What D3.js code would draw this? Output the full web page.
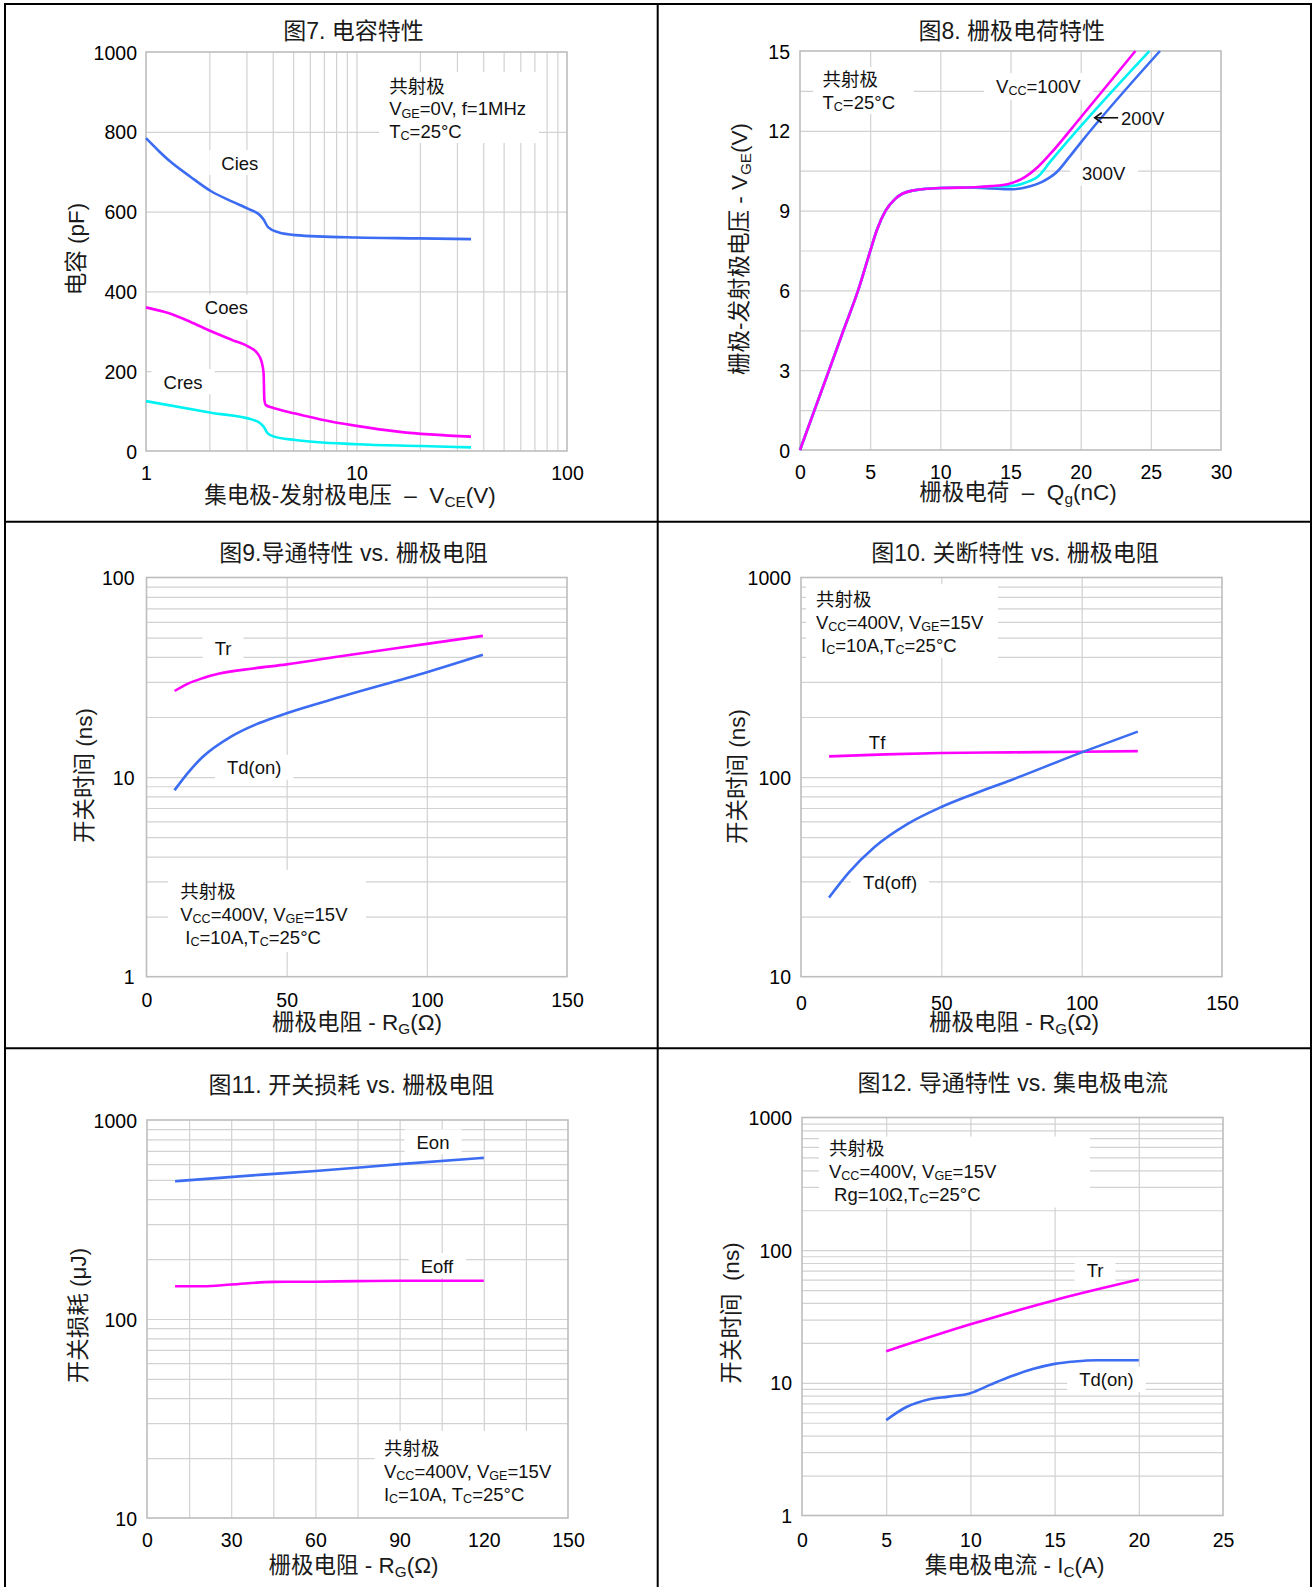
<!DOCTYPE html>
<html><head><meta charset="utf-8">
<script src="https://cdn.jsdelivr.net/npm/d3@7"></script>
<style>body{margin:0;background:#fff} svg{display:block} text{white-space:pre}</style>
</head><body><svg id="c" width="1314" height="1587"></svg>
<script>
// ---------------- DATA ----------------
// Fig 7 capacitance
const fig7XTicks = [1, 10, 100];
const fig7YTicks = [0, 200, 400, 600, 800, 1000];
const fig7XGrid = [2,3,4,5,6,7,8,9,10,20,30,40,50,60,70,80,90];
const fig7YGrid = [200, 400, 600, 800];
const fig7Cies = [[1,784],[1.15,752],[1.3,726],[1.62,688],[2.04,651],[2.57,625],[3.08,606],[3.46,592],[3.62,580],[3.8,561],[4.25,548],[5.11,541],[10,535],[20,533],[35,531]];
const fig7Coes = [[1,360],[1.288,345],[1.62,324],[2.04,300],[2.57,278],[3.08,261],[3.38,245],[3.54,224],[3.62,195],[3.65,128],[3.71,115],[3.97,109],[5.11,94],[6.74,79],[10,63],[16.1,48],[35,36]];
const fig7Cres = [[1,125],[2.04,96],[3.23,78],[3.46,71],[3.62,61],[3.79,44],[4.06,36],[5.11,27.5],[10,17],[20.3,12.5],[35,9]];

// Fig 8 gate charge
const fig8XTicks = [0, 5, 10, 15, 20, 25, 30];
const fig8YTicks = [0, 3, 6, 9, 12, 15];
const fig8XGrid = [5, 10, 15, 20, 25];
const fig8YGrid = [1.5, 3, 4.5, 6, 7.5, 9, 10.5, 12, 13.5];
const fig8Vcc100 = [[0,0],[1,1.45],[2.07,3],[3.1,4.5],[4.14,6],[4.9,7.3],[5.5,8.3],[6.1,9.0],[6.8,9.45],[8,9.75],[10,9.85],[12.5,9.88],[13.65,9.92],[14.85,10.0],[16.05,10.27],[16.95,10.64],[17.85,11.14],[20,12.5],[23.9,15]];
const fig8Vcc200 = [[0,0],[1,1.45],[2.07,3],[3.1,4.5],[4.14,6],[4.9,7.3],[5.5,8.3],[6.1,9.0],[6.8,9.45],[8,9.75],[10,9.85],[12.5,9.88],[13.65,9.9],[15.15,9.93],[16.05,10.05],[17.0,10.3],[17.85,10.85],[24.9,15]];
const fig8Vcc300 = [[0,0],[1,1.45],[2.07,3],[3.1,4.5],[4.14,6],[4.9,7.3],[5.5,8.3],[6.1,9.0],[6.8,9.45],[8,9.75],[10,9.85],[12.5,9.86],[13.65,9.83],[15.0,9.8],[16.05,9.87],[17.25,10.08],[18.3,10.45],[19.2,11.02],[19.95,11.52],[25.65,15]];

// Fig 9 turn-on vs Rg
const fig9XTicks = [0, 50, 100, 150];
const fig9YTicks = [1, 10, 100];
const fig9XGrid = [50, 100];
const fig9YGrid = [2,3,4,5,6,7,8,9,10,20,30,40,50,60,70,80,90];
const fig9Tr = [[10,27],[15,29.5],[20,31.3],[26,33],[38,35],[50,36.7],[68,40.1],[100,46.5],[120,51]];
const fig9Tdon = [[10,8.6],[15,10.6],[20,12.6],[30,15.9],[40,18.6],[50,20.9],[70,25.4],[100,33.5],[120,41]];

// Fig 10 turn-off vs Rg
const fig10XTicks = [0, 50, 100, 150];
const fig10YTicks = [10, 100, 1000];
const fig10XGrid = [50, 100];
const fig10YGrid = [20,30,40,50,60,70,80,90,100,200,300,400,500,600,700,800,900];
const fig10Tf = [[10,127],[30,130],[50,132],[75,133],[100,134],[120,135]];
const fig10Tdoff = [[10,24.9],[17,33.2],[26,44.4],[38,58.3],[50,70.8],[62,82.8],[75,96.8],[100,133],[120,169]];

// Fig 11 switching loss vs Rg
const fig11XTicks = [0, 30, 60, 90, 120, 150];
const fig11YTicks = [10, 100, 1000];
const fig11XGrid = [15,30,45,60,75,90,105,120,135];
const fig11YGrid = [20,30,40,50,60,70,80,90,100,200,300,400,500,600,700,800,900];
const fig11Eon = [[10,492],[40,530],[60,554],[90,600],[120,645]];
const fig11Eoff = [[10,146],[20,146],[30,149],[45,153.6],[60,154],[75,155],[90,155.6],[120,155.6]];

// Fig 12 turn-on vs Ic
const fig12XTicks = [0, 5, 10, 15, 20, 25];
const fig12YTicks = [1, 10, 100, 1000];
const fig12XGrid = [5, 10, 15, 20];
const fig12YGrid = [2,3,4,5,6,7,8,9,10,20,30,40,50,60,70,80,90,100,200,300,400,500,600,700,800,900];
const fig12Tr = [[5,17.3],[10,27.6],[15,42],[20,60]];
const fig12Tdon = [[5,5.24],[6.2,6.57],[7.5,7.5],[8.7,7.87],[10,8.36],[11.2,9.7],[12.5,11.3],[13.7,12.7],[15,13.9],[16.2,14.5],[17.5,14.8],[20,14.8]];

// ---------------- STYLE ----------------
const FONT = '"Liberation Sans", Arial, "Noto Sans CJK SC", sans-serif';
const BLUE = '#3b6cf2', MAG = '#ff00ff', CYAN = '#00f2f2';
const GRID = '#d2d2d2', FRAME = '#bdbdbd';
const TITLE_FS = 23, LABEL_FS = 22.5, TICK_FS = 19.5, NOTE_FS = 18.5;

const svg = d3.select('#c');
svg.append('rect').attr('width', 1314).attr('height', 1587).attr('fill', '#fff');

function rich(t, str, fs) {
  const parts = str.split(/(_\{[^}]*\})/);
  let sub = false;
  parts.forEach(p => {
    if (!p) return;
    if (p.startsWith('_{')) {
      t.append('tspan').attr('font-size', fs * 0.68).attr('dy', fs * 0.28).text(p.slice(2, -1));
      sub = true;
    } else {
      const ts = t.append('tspan').text(p);
      if (sub) { ts.attr('dy', -fs * 0.28); sub = false; }
    }
  });
  return t;
}

const panels = [
  { box:{x0:146,x1:567,y0:52,y1:451}, xLog:true, xDomain:[1,100], yLog:false, yDomain:[0,1000],
    xTicks:fig7XTicks, yTicks:fig7YTicks, xGrid:fig7XGrid, yGrid:fig7YGrid,
    title:'图7. 电容特性', titlePos:[353.5,30.5],
    xLabel:'集电极-发射极电压  –  V_{CE}(V)', xLabelPos:[350,495],
    yLabel:'电容 (pF)', yLabelPos:[76,249], xTickDy:22, yTickPad:9,
    series:[{data:fig7Cies,color:BLUE},{data:fig7Coes,color:MAG},{data:fig7Cres,color:CYAN}],
    labels:[{t:'Cies',at:[2.79,723]},{t:'Coes',at:[2.41,361]},{t:'Cres',at:[1.50,174]}],
    note:{lines:['共射极','V_{GE}=0V, f=1MHz','T_{C}=25°C'], at:[14.3,915], dy:22.5, box:[12.8,73.6,950,772]} },
  { box:{x0:800,x1:1221,y0:51,y1:450}, xLog:false, xDomain:[0,30], yLog:false, yDomain:[0,15],
    xTicks:fig8XTicks, yTicks:fig8YTicks, xGrid:fig8XGrid, yGrid:fig8YGrid,
    title:'图8. 栅极电荷特性', titlePos:[1011.7,30.5],
    xLabel:'栅极电荷  –  Q_{g}(nC)', xLabelPos:[1018,492],
    yLabel:'栅极-发射极电压 - V_{GE}(V)', yLabelPos:[739,249], xTickDy:22, yTickPad:10,
    series:[{data:fig8Vcc300,color:BLUE},{data:fig8Vcc200,color:CYAN},{data:fig8Vcc100,color:MAG}],
    labels:[{t:'V_{CC}=100V',at:[13.97,13.7],anchor:'start'},{t:'200V',at:[22.88,12.47],anchor:'start',nobox:true},{t:'300V',at:[20.1,10.41],anchor:'start'}],
    arrow:{from:[22.67,12.49], to:[21.0,12.49]},
    note:{lines:['共射极','T_{C}=25°C'], at:[1.6,13.95], dy:23, box:[0.93,8.1,14.4,12.63]} },
  { box:{x0:146.5,x1:567,y0:577.5,y1:976.7}, xLog:false, xDomain:[0,150], yLog:true, yDomain:[1,100],
    xTicks:fig9XTicks, yTicks:fig9YTicks, xGrid:fig9XGrid, yGrid:fig9YGrid,
    title:'图9.导通特性 vs. 栅极电阻', titlePos:[353.5,553],
    xLabel:'栅极电阻 - R_{G}(Ω)', xLabelPos:[357,1022],
    yLabel:'开关时间 (ns)', yLabelPos:[84,775.6], xTickDy:23, yTickPad:12,
    series:[{data:fig9Tr,color:MAG},{data:fig9Tdon,color:BLUE}],
    labels:[{t:'Tr',at:[27.3,44.3]},{t:'Td(on)',at:[38.4,11.2]}],
    note:{lines:['共射极','V_{CC}=400V, V_{GE}=15V',' I_{C}=10A,T_{C}=25°C'], at:[12.0,2.69], dy:23, box:[7.7,78.3,3.43,1.33]} },
  { box:{x0:801,x1:1222,y0:577.5,y1:976.7}, xLog:false, xDomain:[0,150], yLog:true, yDomain:[10,1000],
    xTicks:fig10XTicks, yTicks:fig10YTicks, xGrid:fig10XGrid, yGrid:fig10YGrid,
    title:'图10. 关断特性 vs. 栅极电阻', titlePos:[1015,552.5],
    xLabel:'栅极电阻 - R_{G}(Ω)', xLabelPos:[1014,1022],
    yLabel:'开关时间 (ns)', yLabelPos:[737,776.5], xTickDy:26, yTickPad:10,
    series:[{data:fig10Tf,color:MAG},{data:fig10Tdoff,color:BLUE}],
    labels:[{t:'Tf',at:[27.1,150],nobox:true},{t:'Td(off)',at:[31.7,29.8]}],
    note:{lines:['共射极','V_{CC}=400V, V_{GE}=15V',' I_{C}=10A,T_{C}=25°C'], at:[5.3,780], dy:23, box:[1.8,70.2,927,395]} },
  { box:{x0:147,x1:568,y0:1120,y1:1518}, xLog:false, xDomain:[0,150], yLog:true, yDomain:[10,1000],
    xTicks:fig11XTicks, yTicks:fig11YTicks, xGrid:fig11XGrid, yGrid:fig11YGrid,
    title:'图11. 开关损耗 vs. 栅极电阻', titlePos:[351.4,1084.5],
    xLabel:'栅极电阻 - R_{G}(Ω)', xLabelPos:[353.5,1565],
    yLabel:'开关损耗 (μJ)', yLabelPos:[78,1315.5], xTickDy:22, yTickPad:10,
    series:[{data:fig11Eon,color:BLUE},{data:fig11Eoff,color:MAG}],
    labels:[{t:'Eon',at:[101.9,777]},{t:'Eoff',at:[103.3,185.7]}],
    note:{lines:['共射极','V_{CC}=400V, V_{GE}=15V','I_{C}=10A, T_{C}=25°C'], at:[84.4,22.6], dy:23.3, box:[81.1,150,27.4,10]} },
  { box:{x0:802,x1:1223,y0:1117.5,y1:1515.5}, xLog:false, xDomain:[0,25], yLog:true, yDomain:[1,1000],
    xTicks:fig12XTicks, yTicks:fig12YTicks, xGrid:fig12XGrid, yGrid:fig12YGrid,
    title:'图12. 导通特性 vs. 集电极电流', titlePos:[1012.7,1082.5],
    xLabel:'集电极电流 - I_{C}(A)', xLabelPos:[1014.6,1565],
    yLabel:'开关时间  (ns)', yLabelPos:[731,1313], xTickDy:24, yTickPad:10,
    series:[{data:fig12Tr,color:MAG},{data:fig12Tdon,color:BLUE}],
    labels:[{t:'Tr',at:[17.4,70.8]},{t:'Td(on)',at:[18.08,10.6]}],
    note:{lines:['共射极','V_{CC}=400V, V_{GE}=15V',' Rg=10Ω,T_{C}=25°C'], at:[1.6,589], dy:23, box:[1.0,17.1,718,209.6]} }
];

function panel(cfg) {
  const {x0, x1, y0, y1} = cfg.box;
  const xs = (cfg.xLog ? d3.scaleLog() : d3.scaleLinear()).domain(cfg.xDomain).range([x0, x1]);
  const ys = (cfg.yLog ? d3.scaleLog() : d3.scaleLinear()).domain(cfg.yDomain).range([y1, y0]);
  const root = svg.append('g');
  const gGrid = root.append('g'), gBox = root.append('g'), gFrame = root.append('g'),
        gCurve = root.append('g'), gText = root.append('g');

  // grid lines via axes
  const gx = gGrid.append('g').attr('transform', `translate(0,${y1})`)
    .call(d3.axisBottom(xs).tickValues(cfg.xGrid).tickSize(-(y1 - y0)).tickFormat(''));
  gx.select('.domain').remove();
  gx.selectAll('line').attr('stroke', GRID).attr('stroke-width', 1.2);
  const gy = gGrid.append('g').attr('transform', `translate(${x0},0)`)
    .call(d3.axisLeft(ys).tickValues(cfg.yGrid).tickSize(-(x1 - x0)).tickFormat(''));
  gy.select('.domain').remove();
  gy.selectAll('line').attr('stroke', GRID).attr('stroke-width', 1.2);

  // frame
  gFrame.append('rect').attr('x', x0).attr('y', y0).attr('width', x1 - x0).attr('height', y1 - y0)
    .attr('fill', 'none').attr('stroke', FRAME).attr('stroke-width', 1.6);

  // curves
  const line = d3.line().x(d => xs(d[0])).y(d => ys(d[1])).curve(d3.curveMonotoneX);
  cfg.series.forEach(s => gCurve.append('path').attr('d', line(s.data)).attr('fill', 'none')
    .attr('stroke', s.color).attr('stroke-width', 2.6).attr('stroke-linecap', 'butt'));

  // tick labels
  const ax = gText.append('g').attr('transform', `translate(0,${y1})`)
    .call(d3.axisBottom(xs).tickValues(cfg.xTicks).tickSize(0).tickFormat(d => String(d)));
  ax.select('.domain').remove();
  ax.attr('font-size', null).attr('font-family', null);
  ax.selectAll('text').attr('y', cfg.xTickDy).attr('dy', null).attr('dominant-baseline', 'central')
    .attr('font-size', TICK_FS).attr('font-family', FONT).attr('fill', '#000');
  const ay = gText.append('g').attr('transform', `translate(${x0},0)`)
    .call(d3.axisLeft(ys).tickValues(cfg.yTicks).tickSize(0).tickPadding(cfg.yTickPad).tickFormat(d => String(d)));
  ay.select('.domain').remove();
  ay.attr('font-size', null).attr('font-family', null);
  ay.selectAll('text').attr('dy', null).attr('dominant-baseline', 'central')
    .attr('font-size', TICK_FS).attr('font-family', FONT).attr('fill', '#000');

  // title & axis labels
  rich(gText.append('text').attr('x', cfg.titlePos[0]).attr('y', cfg.titlePos[1])
    .attr('text-anchor', 'middle').attr('dominant-baseline', 'central')
    .attr('font-family', FONT).attr('font-size', TITLE_FS).attr('fill', '#1a1a1a'), cfg.title, TITLE_FS);
  rich(gText.append('text').attr('x', cfg.xLabelPos[0]).attr('y', cfg.xLabelPos[1])
    .attr('text-anchor', 'middle').attr('dominant-baseline', 'central')
    .attr('font-family', FONT).attr('font-size', LABEL_FS).attr('fill', '#1a1a1a'), cfg.xLabel, LABEL_FS);
  rich(gText.append('text').attr('transform', `translate(${cfg.yLabelPos[0]},${cfg.yLabelPos[1]}) rotate(-90)`)
    .attr('text-anchor', 'middle').attr('dominant-baseline', 'central')
    .attr('font-family', FONT).attr('font-size', LABEL_FS).attr('fill', '#1a1a1a'), cfg.yLabel, LABEL_FS);

  // note box + text
  const n = cfg.note;
  const bx0 = xs(n.box[0]), bx1 = xs(n.box[1]), by0 = ys(n.box[2]), by1 = ys(n.box[3]);
  gBox.append('rect').attr('x', bx0).attr('y', by0).attr('width', bx1 - bx0).attr('height', by1 - by0).attr('fill', '#fff');
  n.lines.forEach((ln, i) => {
    rich(gText.append('text').attr('x', xs(n.at[0])).attr('y', ys(n.at[1]) + i * n.dy)
      .attr('dominant-baseline', 'central').attr('font-family', FONT).attr('font-size', NOTE_FS)
      .attr('fill', '#111'), ln, NOTE_FS);
  });

  // curve labels
  cfg.labels.forEach(l => {
    const t = gText.append('text').attr('x', xs(l.at[0])).attr('y', ys(l.at[1]))
      .attr('text-anchor', l.anchor || 'middle').attr('dominant-baseline', 'central')
      .attr('font-family', FONT).attr('font-size', NOTE_FS).attr('fill', '#111');
    rich(t, l.t, NOTE_FS);
    if (!l.nobox) {
      const bb = t.node().getBBox();
      gBox.append('rect').attr('x', bb.x - 12).attr('y', bb.y - 2).attr('width', bb.width + 24)
        .attr('height', bb.height + 4).attr('fill', '#fff');
    }
  });

  if (cfg.arrow) {
    const ax0 = xs(cfg.arrow.from[0]), ay0 = ys(cfg.arrow.from[1]);
    const ax1 = xs(cfg.arrow.to[0]), ay1 = ys(cfg.arrow.to[1]);
    gText.append('line').attr('x1', ax0).attr('y1', ay0).attr('x2', ax1).attr('y2', ay1)
      .attr('stroke', '#111').attr('stroke-width', 1.6);
    gText.append('path').attr('d', `M${ax1 + 7},${ay1 - 5}L${ax1},${ay1}L${ax1 + 7},${ay1 + 5}`)
      .attr('fill', 'none').attr('stroke', '#111').attr('stroke-width', 1.6);
  }
}

panels.forEach(panel);

// outer frame and dividers
const frame = svg.append('g').attr('stroke', '#000').attr('stroke-width', 2).attr('fill', 'none');
frame.append('rect').attr('x', 5).attr('y', 4).attr('width', 1306).attr('height', 1585);
frame.append('line').attr('x1', 657.7).attr('x2', 657.7).attr('y1', 4).attr('y2', 1587);
frame.append('line').attr('x1', 5).attr('x2', 1311).attr('y1', 521.7).attr('y2', 521.7);
frame.append('line').attr('x1', 5).attr('x2', 1311).attr('y1', 1048.3).attr('y2', 1048.3);
</script></body></html>
